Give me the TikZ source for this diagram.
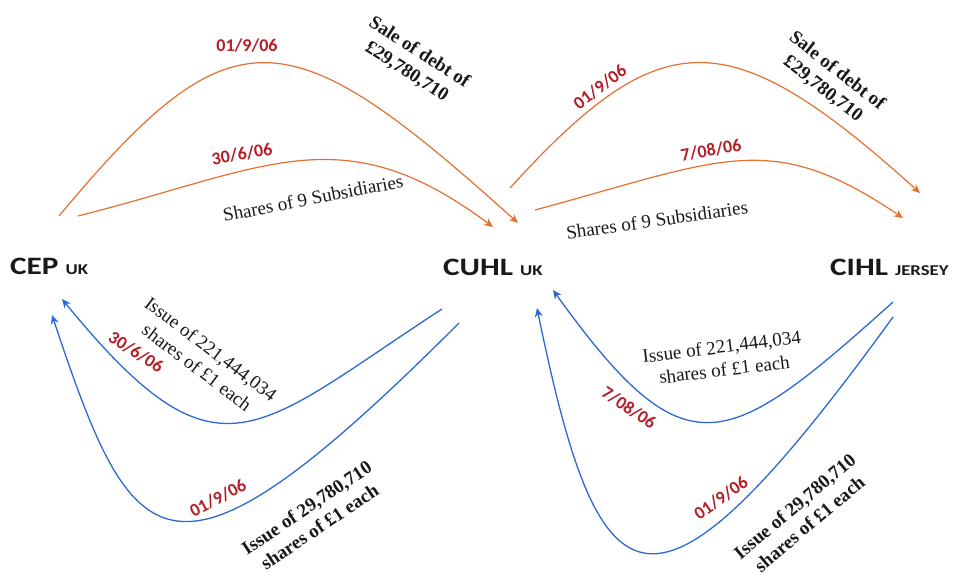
\documentclass[tikz,border=0pt]{standalone}
\usepackage{fontspec}
\setmainfont{Liberation Serif}
\newfontfamily\calfont{Carlito}
\newfontfamily\entfont[FakeStretch=1.25]{Carlito}
\usetikzlibrary{arrows.meta}
\definecolor{arcorange}{RGB}{228,112,50}
\definecolor{arcblue}{RGB}{45,105,210}
\definecolor{datered}{RGB}{180,30,40}
\definecolor{inkblack}{RGB}{25,25,25}
\tikzset{
  orangearc/.style={draw=arcorange, line width=1.2pt, -{Stealth[length=9pt,width=8pt,inset=3pt]}},
  bluearc/.style={draw=arcblue, line width=1.3pt, -{Stealth[length=9pt,width=8pt,inset=3pt]}},
  datelbl/.style={font=\calfont\bfseries\fontsize{18}{18}\selectfont, text=datered, inner sep=0pt},
  plainlbl/.style={font=\fontsize{19}{23}\selectfont, text=inkblack, align=center, inner sep=0pt},
  boldlbl/.style={font=\bfseries\fontsize{19}{23}\selectfont, text=inkblack, align=center, inner sep=0pt},
  entity/.style={font=\entfont\bfseries\fontsize{25}{25}\selectfont, text=inkblack, inner sep=0pt, anchor=base west}
}
\newcommand{\smallcaps}[1]{{\fontsize{15}{15}\selectfont #1}}
\begin{document}
\begin{tikzpicture}[x=1pt,y=-1pt]
\useasboundingbox (0,0) rectangle (956,576);
\fill[white] (0,0) rectangle (956,576);

% entities
\node[entity] (cep)  at (10,274)  {CEP \smallcaps{UK}};
\node[entity] (cuhl) at (443,275) {CUHL \smallcaps{UK}};
\node[entity] (cihl) at (830,275) {CIHL \smallcaps{JERSEY}};

% connector end points
\coordinate (a1s) at (59,216);  \coordinate (a1e) at (518,223);
\coordinate (a2s) at (78,216);  \coordinate (a2e) at (493,227);
\coordinate (a3s) at (510,188); \coordinate (a3e) at (920,193);
\coordinate (a4s) at (535,210); \coordinate (a4e) at (903,218);
\coordinate (b1s) at (442,309); \coordinate (b1e) at (62,299);
\coordinate (b2s) at (459,323); \coordinate (b2e) at (52,315);
\coordinate (b3s) at (893,302); \coordinate (b3e) at (553,290);
\coordinate (b4s) at (893,317); \coordinate (b4e) at (537,308);

% orange arcs (top)
\draw[orangearc] (a1s) .. controls (233,7) and (287,15) .. (a1e);
\draw[orangearc] (a2s) .. controls (268,168) and (342,114) .. (a2e);
\draw[orangearc] (a3s) .. controls (662,21) and (728,20) .. (a3e);
\draw[orangearc] (a4s) .. controls (724,159) and (770,128) .. (a4e);

% blue arcs (bottom)
\draw[bluearc] (b1s) .. controls (253,432) and (219,491) .. (b1e);
\draw[bluearc] (b2s) .. controls (168,614) and (134,561) .. (b2e);
\draw[bluearc] (b3s) .. controls (725,453) and (686,475) .. (b3e);
\draw[bluearc] (b4s) .. controls (650,652) and (600,614) .. (b4e);

% labels top left
\node[datelbl] (d1) at (247,46) {01/9/06};
\node[datelbl, rotate=10] (d2) at (242,154) {30/6/06};
\node[plainlbl, rotate=11] (t1) at (313,198) {Shares of 9 Subsidiaries};
\node[boldlbl, rotate=-33] (t2) at (413,62) {Sale of debt of\\\pounds29,780,710};

% labels top right
\node[datelbl, rotate=37] (d3) at (600,87) {01/9/06};
\node[datelbl, rotate=10] (d4) at (711,150) {7/08/06};
\node[boldlbl, rotate=-38] (t3) at (830,80) {Sale of debt of\\\pounds29,780,710};
\node[plainlbl, rotate=8] (t4) at (657,220) {Shares of 9 Subsidiaries};

% labels bottom left
\node[plainlbl, rotate=-37] (t5) at (204,358) {Issue of 221,444,034\\shares of \pounds1 each};
\node[datelbl, rotate=-33] (d5) at (136,352) {30/6/06};
\node[datelbl, rotate=28] (d6) at (218,498) {01/9/06};
\node[boldlbl, rotate=34] (t6) at (313,517) {Issue of 29,780,710\\shares of \pounds1 each};

% labels bottom right
\node[plainlbl, rotate=7] (t7) at (723,358) {Issue of 221,444,034\\shares of \pounds1 each};
\node[datelbl, rotate=-34] (d7) at (629,408) {7/08/06};
\node[datelbl, rotate=35] (d8) at (721,498) {01/9/06};
\node[boldlbl, rotate=40] (t8) at (802,515) {Issue of 29,780,710\\shares of \pounds1 each};
\end{tikzpicture}
\end{document}
